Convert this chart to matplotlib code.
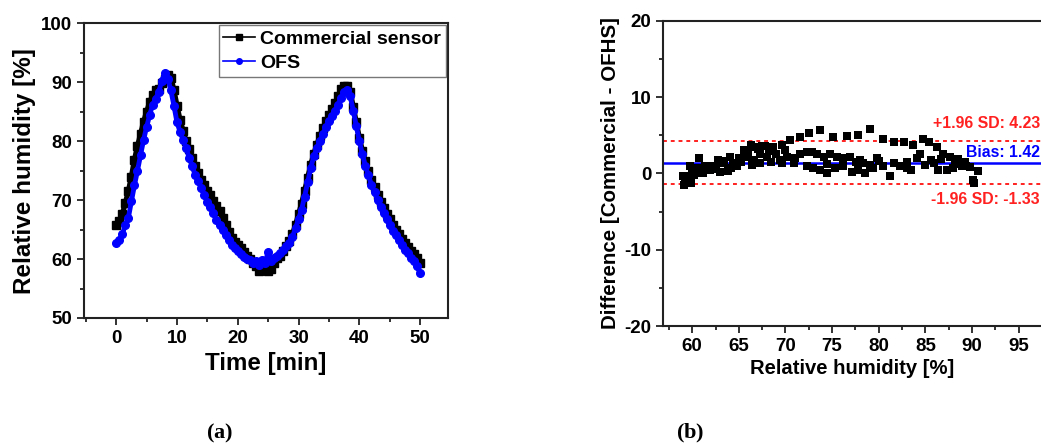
import numpy as np
import matplotlib
matplotlib.use("Agg")
import matplotlib.pyplot as plt
from matplotlib.ticker import MultipleLocator

plt.rcParams['font.family'] = ['Liberation Sans', 'DejaVu Sans']
plt.rcParams['font.weight'] = 'bold'
plt.rcParams['axes.unicode_minus'] = False
plt.rcParams['mathtext.fontset'] = 'custom'
plt.rcParams['mathtext.rm'] = 'Liberation Serif'
plt.rcParams['mathtext.bf'] = 'Liberation Serif:bold'

# ---------------- Panel (a) data ----------------
time_min = [i * 0.5 for i in range(101)]
commercial = [65.8, 66.4, 67.6, 69.5, 71.5, 74.0, 76.8, 79.2, 81.2, 83.3,
              85.0, 86.6, 87.8, 88.6, 88.9, 89.8, 90.6, 91.2, 90.8, 88.6,
              86.0, 83.6, 81.8, 80.0, 78.6, 77.2, 75.8, 74.6, 73.4, 72.6,
              71.6, 70.8, 69.8, 69.0, 68.2, 67.0, 65.8, 64.6, 63.6, 62.9,
              62.3, 61.8, 61.2, 60.6, 60.0, 59.4, 58.8, 58.0, 58.4, 58.9,
              57.9, 58.3, 59.4, 60.2, 60.6, 61.4, 62.2, 63.0, 64.2, 65.8,
              67.6, 69.4, 71.6, 73.8, 76.0, 77.8, 79.4, 80.8, 82.2, 83.4,
              84.4, 85.4, 86.4, 87.6, 88.8, 89.4, 89.4, 88.4, 85.8, 83.2,
              80.6, 78.4, 76.6, 75.0, 73.4, 72.2, 70.8, 69.6, 68.6, 67.6,
              66.8, 65.8, 65.0, 64.2, 63.4, 62.7, 62.0, 61.4, 60.8, 60.2,
              59.3]
ofs = [62.8, 63.2, 64.2, 65.8, 67.0, 69.8, 72.5, 75.0, 77.6, 80.2,
       82.4, 84.4, 86.2, 87.2, 88.4, 90.2, 91.6, 90.6, 88.6, 86.0,
       83.2, 81.6, 80.2, 78.8, 77.2, 75.8, 74.2, 73.2, 72.0, 70.8,
       69.6, 68.8, 67.8, 66.6, 65.8, 65.0, 64.0, 63.2, 62.4, 61.8,
       61.4, 60.8, 60.4, 60.0, 59.8, 59.4, 59.6, 59.0, 59.8, 59.4,
       61.2, 59.6, 60.2, 60.6, 61.0, 61.6, 62.2, 62.8, 63.8, 65.2,
       66.8, 68.4, 70.6, 73.0, 75.4, 77.4, 78.8, 80.0, 81.2, 82.4,
       83.4, 84.2, 85.2, 86.2, 87.4, 88.4, 88.6, 87.6, 85.2, 82.6,
       80.0, 77.8, 75.8, 74.2, 72.6, 71.4, 70.0, 68.8, 67.8, 66.8,
       65.8, 64.8, 64.0, 63.2, 62.4, 61.6, 61.0, 60.2, 59.6, 58.8,
       57.6]

# ---------------- Panel (b) data ----------------
rh_mean = [59.0, 59.1, 59.2, 59.4, 59.8, 59.9, 60.2, 60.6, 60.7, 61.0,
           61.2, 61.4, 61.9, 62.5, 62.8, 63.0, 63.4, 63.8, 64.1, 64.2,
           64.4, 64.8, 65.2, 65.5, 65.9, 66.3, 66.4, 66.6, 66.8, 67.3,
           67.3, 67.5, 67.8, 68.0, 68.4, 68.7, 69.4, 69.6, 69.6, 70.0,
           70.2, 70.5, 70.9, 71.6, 71.6, 72.3, 72.3, 72.5, 72.8, 73.0,
           73.4, 73.7, 73.7, 74.1, 74.4, 74.8, 75.1, 75.3, 75.5, 76.2,
           76.2, 76.6, 76.9, 77.1, 77.6, 77.8, 77.8, 78.3, 78.5, 79.1,
           79.1, 79.4, 79.8, 80.5, 80.5, 81.2, 81.6, 81.6, 82.3, 82.7,
           83.0, 83.5, 83.7, 84.1, 84.4, 84.7, 85.0, 85.4, 85.9, 86.2,
           86.4, 86.9, 87.3, 87.6, 88.0, 88.5, 88.9, 89.2, 89.4, 89.8,
           90.1, 90.2, 90.6, 60.0, 61.7, 62.2, 63.2, 65.0, 66.0, 67.0,
           68.2, 69.0, 71.0, 74.4, 78.0, 80.0, 83.0, 85.6, 86.7, 88.2]
difference = [-0.4, -1.5, -1.1, -0.4, 0.9, -1.3, -0.2, 0.7, 2.0, 0.0,
              0.0, 0.9, 0.4, 0.9, 1.8, 0.2, 1.3, 0.3, 2.2, 0.7,
              1.3, 0.9, 1.5, 3.1, 2.2, 3.7, 1.1, 1.8, 3.5, 2.6,
              1.3, 3.6, 3.6, 2.2, 1.5, 3.4, 1.8, 3.7, 1.3, 3.1,
              2.2, 4.4, 1.3, 4.8, 2.6, 2.8, 0.9, 5.3, 2.8, 0.7,
              2.6, 5.7, 0.4, 2.2, 0.0, 2.6, 4.8, 0.7, 2.2, 2.0,
              0.9, 4.9, 2.2, 0.2, 1.5, 5.0, 0.4, 1.3, 0.0, 5.8,
              1.1, 0.7, 2.0, 4.5, 0.9, -0.4, 4.1, 1.3, 0.9, 4.1,
              0.7, 0.4, 3.7, 2.0, 2.6, 4.5, 1.1, 4.1, 1.3, 3.4,
              0.4, 2.6, 0.4, 2.2, 0.7, 1.9, 0.9, 1.5, 0.9, 0.8,
              -0.9, -1.3, 0.3, 0.5, 1.0, 0.6, 1.6, 2.0, 2.8, 3.2,
              2.9, 2.5, 2.0, 1.2, 1.8, 1.6, 1.5, 1.7, 1.9, 1.2]
bias = 1.42
upper_loa = 4.23
lower_loa = -1.33

# ---------------- Figure ----------------
fig = plt.figure(figsize=(10.41, 4.48), dpi=100)

ax1 = fig.add_axes([0.0807, 0.2902, 0.4304 - 0.0807, 0.948 - 0.2902])
ax1.plot(time_min, commercial, color='black', marker='s', markersize=5.5,
         linewidth=3.8, label='Commercial sensor')
ax1.plot(time_min, ofs, color='#0000FF', marker='o', markersize=5.5,
         linewidth=3.5, label='OFS')
ax1.set_xlim(-5.3, 54.6)
ax1.set_ylim(50, 100)
ax1.xaxis.set_major_locator(MultipleLocator(10))
ax1.xaxis.set_minor_locator(MultipleLocator(5))
ax1.yaxis.set_major_locator(MultipleLocator(10))
ax1.yaxis.set_minor_locator(MultipleLocator(5))
ax1.set_xlabel('Time [min]', fontsize=17.4, fontweight='bold', labelpad=4)
ax1.set_ylabel('Relative humidity [%]', fontsize=17.5, fontweight='bold', labelpad=4)
leg = ax1.legend(loc='upper right', frameon=True, fancybox=False,
                 edgecolor='#555555', borderpad=0.25, handlelength=1.6,
                 handletextpad=0.3, labelspacing=0.35, borderaxespad=0.1,
                 prop={'weight': 'bold', 'size': 14})
leg.get_frame().set_linewidth(1.0)
for h in leg.legend_handles:
    h.set_linewidth(1.2)
    h.set_markersize(4)

ax2 = fig.add_axes([0.6372, 0.2723, 1.0 - 0.6372, 0.9538 - 0.2723])
ax2.scatter(rh_mean, difference, marker='s', s=28, color='black', linewidths=0, zorder=3)
ax2.axhline(bias, color='#0000FF', linewidth=1.8, zorder=2)
ax2.axhline(upper_loa, color='#FF2020', linewidth=1.4, linestyle=(0, (2, 2)), zorder=2)
ax2.axhline(lower_loa, color='#FF2020', linewidth=1.4, linestyle=(0, (2, 2)), zorder=2)
ax2.set_xlim(56.9, 97.4)
ax2.set_ylim(-20, 20)
ax2.xaxis.set_major_locator(MultipleLocator(5))
ax2.xaxis.set_minor_locator(MultipleLocator(2.5))
ax2.yaxis.set_major_locator(MultipleLocator(10))
ax2.yaxis.set_minor_locator(MultipleLocator(5))
ax2.set_xlabel('Relative humidity [%]', fontsize=14.6, fontweight='bold', labelpad=3)
ax2.set_ylabel('Difference [Commercial - OFHS]', fontsize=14.8, fontweight='bold', labelpad=3)
ax2.spines['right'].set_visible(False)
ax2.text(0.997, 6.5, '+1.96 SD: 4.23', color='#FF2020', fontsize=11.4, fontweight='bold',
         ha='right', va='center', transform=ax2.get_yaxis_transform())
ax2.text(0.997, 2.75, 'Bias: 1.42', color='#0000FF', fontsize=11.4, fontweight='bold',
         ha='right', va='center', transform=ax2.get_yaxis_transform())
ax2.text(0.997, -3.4, '-1.96 SD: -1.33', color='#FF2020', fontsize=11.4, fontweight='bold',
         ha='right', va='center', transform=ax2.get_yaxis_transform())

for ax in (ax1, ax2):
    for s in ax.spines.values():
        s.set_linewidth(1.5)
        s.set_color('#222222')
    ax.tick_params(which='both', direction='out', top=False, right=False,
                   width=1.3, colors='#222222', labelcolor='black')
    ax.tick_params(which='major', length=5, labelsize=13.5)
    ax.tick_params(which='minor', length=3)
    for lab in ax.get_xticklabels() + ax.get_yticklabels():
        lab.set_fontweight('bold')

fig.text(0.2113, 0.033, r'$(\mathbf{a})$', fontsize=16, ha='center', va='center')
fig.text(0.663, 0.033, r'$(\mathbf{b})$', fontsize=16, ha='center', va='center')

fig.savefig('out.png', dpi=100)
